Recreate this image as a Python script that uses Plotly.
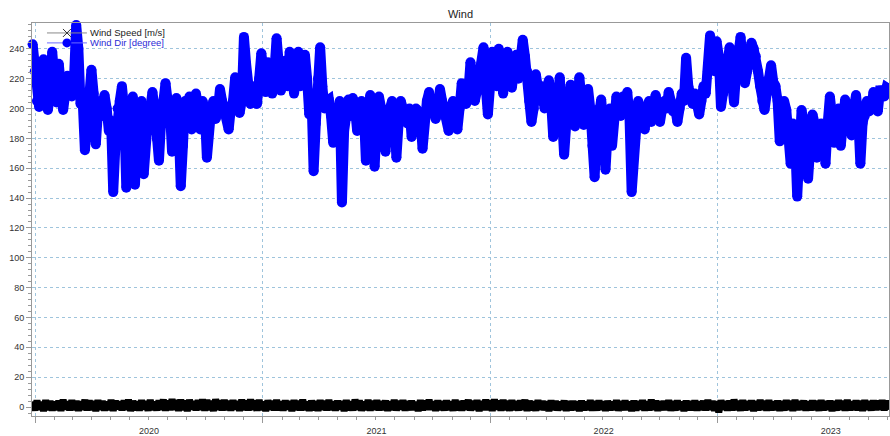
import pandas as pd
import plotly.graph_objects as go

# Samples every 3.5 days starting late December 2019
START_DATE = "2019-12-28"
STEP = "84h"

# Wind direction [degree]
WIND_DIR = [
    243, 225, 205, 201, 218, 233,
    215, 199, 210, 238, 220,
    204, 230, 212, 199, 210,
    222, 214, 208, 220, 256,
    240, 203, 205, 172, 190,
    205, 226, 210, 176, 198,
    205, 195, 209, 200, 185,
    192, 144, 175, 200, 205,
    215, 200, 147, 185, 195,
    208, 149, 190, 200, 205,
    156, 185, 195, 200, 211,
    200, 180, 165, 192, 205,
    217, 205, 200, 171, 195,
    207, 190, 148, 175, 205,
    200, 208, 186, 205, 210,
    200, 186, 205, 200, 167,
    190, 200, 205, 193, 198,
    213, 205, 200, 195, 186,
    200, 205, 221, 210, 197,
    205, 248, 230, 205, 203,
    215, 210, 203, 220, 237,
    225, 211, 231, 215, 210,
    225, 247, 230, 212, 225,
    232, 215, 238, 225, 210,
    220, 238, 215, 228, 236,
    220, 196, 210, 158, 190,
    220, 241, 215, 200, 205,
    206, 195, 177, 200, 195,
    205, 137, 185, 200, 206,
    195, 207, 200, 185, 198,
    205, 200, 165, 195, 209,
    200, 161, 190, 208, 200,
    190, 171, 195, 200, 205,
    195, 167, 190, 205, 200,
    195, 190, 200, 181, 192,
    200, 198, 195, 173, 195,
    205, 211, 200, 205, 193,
    200, 213, 205, 200, 195,
    185, 200, 205, 195, 186,
    200, 217, 205, 203, 210,
    231, 215, 205, 212, 220,
    230, 241, 215, 196, 215,
    238, 225, 215, 240, 222,
    210, 230, 238, 220, 214,
    225, 236, 220, 230, 246,
    235, 225, 205, 191, 200,
    223, 210, 205, 215, 200,
    210, 219, 205, 181, 200,
    205, 221, 195, 169, 190,
    200, 216, 205, 188, 200,
    221, 205, 189, 200, 213,
    200, 175, 154, 185, 200,
    206, 190, 159, 185, 200,
    175, 200, 208, 200, 195,
    208, 200, 211, 195, 144,
    175, 200, 205, 200, 195,
    186, 200, 205, 191, 198,
    209, 200, 191, 200, 205,
    200, 211, 205, 198, 200,
    191, 200, 210, 205, 234,
    215, 208, 203, 210, 205,
    196, 205, 215, 210, 225,
    249, 230, 225, 245, 235,
    201, 210, 220, 230, 241,
    220, 204, 225, 240, 248,
    230, 217, 225, 235, 244,
    240, 235, 225, 215, 205,
    199, 210, 220, 229, 218,
    215, 205, 178, 195, 205,
    199, 185, 163, 190, 180,
    141, 175, 199, 190, 185,
    153, 180, 196, 190, 167,
    185, 190, 180, 163, 190,
    208, 195, 177, 190, 200,
    175, 195, 206, 200, 190,
    182, 200, 209, 195, 163,
    190, 195, 205, 198, 200,
    211, 205, 198, 212, 212,
    208, 214, 213,
]

# Wind speed [m/s]
WIND_SPEED = [
    3.8, -2.2, 4.4, -1.7, 3.3, -2.6, 4.6, -1.9, 4.0, -2.3,
    3.5, -1.8, 4.2, -2.5, 4.9, -1.5, 3.7, -2.1, 4.5, -1.9,
    4.1, -2.4, 3.6, -1.6, 4.8, -2.2, 4.3, -2.0, 3.9, -2.7,
    4.6, -1.7, 4.0, -2.3, 3.4, -1.9, 4.7, -2.5, 4.2, -1.4,
    3.7, -2.1, 4.4, -1.8, 4.9, -2.6, 4.1, -2.0, 3.6, -2.3,
    4.5, -1.6, 3.9, -2.4, 4.7, -1.9, 3.5, -2.2, 4.4, -1.7,
    5.0, -2.3, 4.2, -2.0, 5.3, -1.8, 4.6, -2.5, 4.9, -1.9,
    4.3, -2.7, 4.8, -1.5, 3.9, -2.1, 4.5, -1.8, 5.1, -2.4,
    4.7, -2.0, 4.0, -2.6, 5.2, -1.7, 4.4, -2.2, 4.8, -1.9,
    4.1, -2.3, 4.6, -1.6, 3.8, -2.5, 4.9, -2.0, 4.2, -2.1,
    5.0, -1.8, 4.3, -2.4, 4.7, -1.9, 3.6, -2.7, 4.5, -1.7,
    4.0, -2.1, 4.8, -2.0, 3.7, -2.3, 4.4, -1.5, 3.9, -2.6,
    4.6, -1.9, 4.1, -2.2, 4.9, -1.8, 3.5, -2.4, 4.3, -2.0,
    3.8, -2.5, 4.5, -1.7, 4.0, -2.1, 4.7, -1.9, 3.6, -2.3,
    4.2, -1.6, 3.9, -2.6, 4.6, -2.0, 3.7, -2.2, 5.0, -1.8,
    4.4, -2.4, 3.5, -1.9, 4.8, -2.3, 4.1, -1.7, 4.6, -2.1,
    3.9, -2.0, 4.3, -2.5, 3.6, -1.8, 4.7, -2.2, 4.0, -1.6,
    4.5, -2.3, 3.8, -2.0, 4.2, -1.9, 3.4, -2.6, 4.6, -2.1,
    4.1, -1.8, 4.9, -1.7, 3.7, -2.5, 4.4, -2.0, 3.9, -2.2,
    4.3, -1.9, 3.6, -2.4, 4.7, -2.1, 3.9, -2.3, 4.2, -1.7,
    4.8, -2.2, 4.0, -1.8, 4.5, -2.6, 3.8, -1.9, 4.9, -2.0,
    4.4, -2.5, 5.1, -1.6, 4.2, -2.3, 4.7, -2.0, 4.0, -2.4,
    4.6, -1.9, 3.9, -2.2, 4.3, -1.7, 4.8, -2.5, 4.1, -2.1,
    3.7, -2.4, 4.5, -1.8, 4.0, -2.0, 3.6, -2.6, 4.4, -1.9,
    4.1, -2.2, 3.5, -1.7, 4.3, -2.4, 3.8, -2.1, 4.0, -1.8,
    3.6, -2.6, 4.2, -2.0, 3.4, -1.9, 4.5, -2.3, 3.9, -2.2,
    4.3, -1.7, 3.7, -2.5, 4.1, -2.1, 3.5, -1.8, 4.6, -2.4,
    3.8, -2.0, 4.4, -1.9, 3.6, -2.7, 4.2, -2.2, 3.9, -1.6,
    4.5, -2.3, 3.7, -2.1, 4.9, -1.8, 4.2, -2.5, 3.8, -2.0,
    4.0, -1.9, 4.6, -2.4, 3.9, -2.2, 4.3, -1.7, 3.5, -2.6,
    4.2, -2.1, 3.8, -2.0, 4.4, -2.3, 3.6, -1.9, 4.1, -2.2,
    4.7, -1.8, 4.0, -2.5, 3.7, -3.5, 4.5, -1.7, 3.9, -2.3,
    4.3, -2.2, 5.0, -1.9, 4.1, -2.4, 4.6, -2.0, 3.8, -1.8,
    4.4, -2.6, 3.9, -2.1, 4.7, -1.7, 4.0, -2.3, 4.5, -2.0,
    3.7, -1.9, 4.2, -2.4, 3.8, -2.2, 4.6, -1.8, 4.1, -2.5,
    4.8, -2.0, 3.9, -1.7, 4.3, -2.3, 3.6, -2.1, 4.4, -1.9,
    4.0, -2.4, 4.6, -2.0, 3.8, -1.8, 4.2, -2.6, 3.9, -2.2,
    4.5, -1.7, 4.1, -2.3, 4.7, -2.0, 3.7, -1.9, 4.3, -2.1,
    4.0, -2.5, 4.6, -1.8, 3.9, -2.2, 4.4, -2.0, 4.1, -1.7,
    4.5, -2.1, 4.2, -1.9,
]

dates = pd.date_range(START_DATE, periods=len(WIND_DIR), freq=STEP)

BLUE = "#0000ff"
GRID = "#9fc4dc"
AXIS = "#999999"
FONT = "Liberation Sans, Arial, sans-serif"

fig = go.Figure()

fig.add_trace(go.Scatter(
    x=dates, y=WIND_SPEED, mode="lines", name="Wind Speed [m/s]",
    line=dict(color="black", width=7),
    showlegend=False, hoverinfo="skip",
))
fig.add_trace(go.Scatter(
    x=dates, y=WIND_DIR, mode="lines+markers", name="Wind Dir [degree]",
    line=dict(color=BLUE, width=10),
    marker=dict(size=10, color=BLUE),
    cliponaxis=False, showlegend=False,
))

# Compact two-row key in the upper-left corner of the plot area
PLOT_L, PLOT_T, PLOT_W, PLOT_H = 32, 23, 858, 395


def px_x(px):
    return (px - PLOT_L) / PLOT_W


def px_y(py):
    return (PLOT_T + PLOT_H - py) / PLOT_H


key_rows = [
    ("Wind Speed [m/s]", "#222222", "#8a8a8a", 33),
    ("Wind Dir [degree]", "#2b2bd6", "#6b6bff", 43),
]
shapes, annotations = [], []
for label, text_color, line_color, row_y in key_rows:
    shapes.append(dict(type="line", xref="paper", yref="paper",
                       x0=px_x(47), x1=px_x(87), y0=px_y(row_y), y1=px_y(row_y),
                       line=dict(color=line_color, width=1), layer="above"))
    annotations.append(dict(text=label, xref="paper", yref="paper",
                            x=px_x(88), y=px_y(row_y), xanchor="left",
                            yanchor="middle", showarrow=False,
                            font=dict(size=9.5, color=text_color)))
# Symbols on the key lines
shapes += [
    dict(type="line", xref="paper", yref="paper", xsizemode="pixel",
         ysizemode="pixel", xanchor=px_x(67), yanchor=px_y(33),
         x0=-4, x1=4, y0=-4, y1=4, line=dict(color="#333333", width=1),
         layer="above"),
    dict(type="line", xref="paper", yref="paper", xsizemode="pixel",
         ysizemode="pixel", xanchor=px_x(67), yanchor=px_y(33),
         x0=-4, x1=4, y0=4, y1=-4, line=dict(color="#333333", width=1),
         layer="above"),
    dict(type="circle", xref="paper", yref="paper", xsizemode="pixel",
         ysizemode="pixel", xanchor=px_x(67), yanchor=px_y(43),
         x0=-4.5, x1=4.5, y0=-4.5, y1=4.5, fillcolor=BLUE,
         line=dict(color=BLUE, width=0), layer="above"),
]

fig.update_layout(
    width=890, height=436,
    margin=dict(l=PLOT_L, r=0, t=PLOT_T, b=18),
    paper_bgcolor="white", plot_bgcolor="white",
    font=dict(family=FONT, size=9, color="#333333"),
    title=dict(text="Wind", x=0.5, xref="paper", xanchor="center",
               y=1 - 14 / 436, yref="container", yanchor="middle",
               font=dict(size=11, color="#222222")),
    showlegend=False,
    shapes=shapes,
    annotations=annotations,
    xaxis=dict(
        type="date", range=["2019-12-27", "2023-10-04"],
        tick0="2020-01-01", dtick="M12", tickformat="%Y",
        ticklabelmode="period",
        showgrid=True, gridcolor=GRID, griddash="dot", gridwidth=1,
        ticks="outside", ticklen=6, tickcolor=AXIS,
        showline=True, linecolor=AXIS, mirror=True, zeroline=False,
        minor=dict(dtick="M1", ticks="outside", ticklen=3,
                   tickcolor=AXIS, showgrid=False),
        tickfont=dict(size=9, color="#333333"),
    ),
    yaxis=dict(
        range=[-6, 257.3], tick0=0, dtick=20,
        showgrid=True, gridcolor=GRID, griddash="dot", gridwidth=1,
        ticks="outside", ticklen=5, tickcolor=AXIS,
        showline=True, linecolor=AXIS, mirror=True, zeroline=False,
        minor=dict(dtick=4, ticks="outside", ticklen=3,
                   tickcolor=AXIS, showgrid=False),
        tickfont=dict(size=9, color="#333333"),
    ),
)

fig.write_html("out.html")
